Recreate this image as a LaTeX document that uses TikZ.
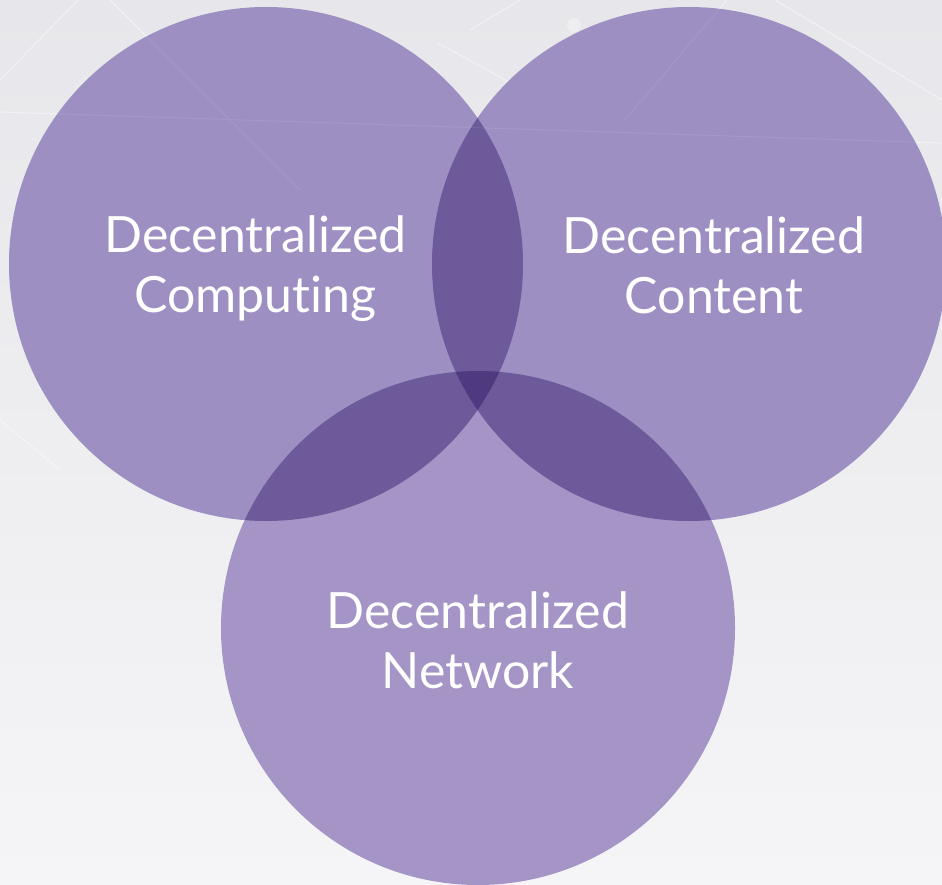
\documentclass[tikz,border=0pt]{standalone}
\usepackage{fontspec}
\setmainfont{Lato}[Ligatures=NoCommon]
\begin{document}
\begin{tikzpicture}[x=1pt,y=-1pt]
\definecolor{bgtop}{HTML}{E7E7EB}
\definecolor{bgbot}{HTML}{F5F5F7}
\definecolor{oneA}{HTML}{9E8FC2}
\definecolor{oneC}{HTML}{A495C6}
\definecolor{two}{HTML}{6C5A9A}
\definecolor{three}{HTML}{4E3A7F}
\tikzset{
  bgline/.style={draw=white, line width=1.2pt, opacity=0.4},
  label/.style={text=white, font=\fontsize{50}{60}\selectfont, align=center, anchor=base, inner sep=0pt}
}
% background
\shade[top color=bgtop, bottom color=bgbot] (0,0) rectangle (942,885);
\useasboundingbox (0,0) rectangle (942,885);
\draw[bgline] (0,80) -- (78,0);
\draw[bgline] (0,112) -- (942,143);
\draw[bgline] (110,0) -- (300,190);
\draw[bgline] (438,43) -- (560,110);
\draw[bgline] (775,0) -- (942,100);
\draw[bgline] (727,0) -- (625,120);
\draw[bgline] (520,0) -- (470,30);
\draw[bgline] (0,420) -- (60,470);
\fill[white, opacity=0.3] (574,25) circle (7);
% circles
\def\cA{(266,264) circle (257)}
\def\cB{(689,264) circle (257)}
\def\cC{(478,628) circle (257)}
\fill[oneA] \cA;
\fill[oneA] \cB;
\fill[oneC] \cC;
\begin{scope}
  \clip \cA;
  \fill[two] \cB;
  \fill[two] \cC;
\end{scope}
\begin{scope}
  \clip \cB;
  \fill[two] \cC;
\end{scope}
\begin{scope}
  \clip \cA;
  \clip \cB;
  \fill[three] \cC;
\end{scope}
% faint lines over circles
\draw[white, line width=1pt, opacity=0.08] (0,112) -- (942,143);
\draw[white, line width=1pt, opacity=0.08] (110,0) -- (300,190);
\draw[white, line width=1pt, opacity=0.08] (727,0) -- (625,120);
\draw[white, line width=1pt, opacity=0.08] (775,0) -- (942,100);
% labels
\node[label] (computing) at (255.5,312.7) {Decentralized\\Computing};
\node[label] (content) at (714,313) {Decentralized\\Content};
\node[label] (network) at (478,688) {Decentralized\\Network};
\end{tikzpicture}
\end{document}
